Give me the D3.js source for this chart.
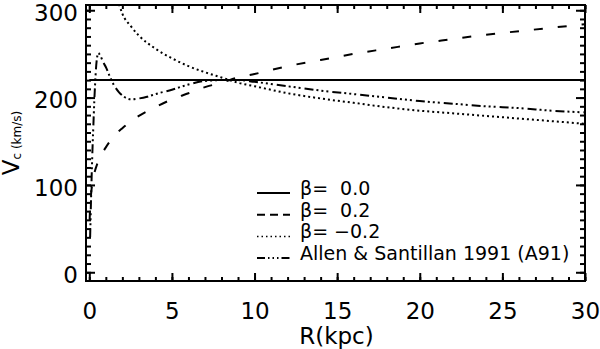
<!DOCTYPE html>
<html>
<head>
<meta charset="utf-8">
<script src="https://cdn.jsdelivr.net/npm/d3@7"></script>
<style>
	body { margin: 0; background: #fff; }
	svg { display: block; }
	text { font-family: "DejaVu Sans", sans-serif; fill: #000; }
</style>
</head>
<body>
<svg id="chart" width="600" height="349"></svg>
<script>
// tick values
var xTicks = [0, 5, 10, 15, 20, 25, 30];
var yTicks = [0, 100, 200, 300];

// beta = 0.0 (flat)
var rFlat = [0, 30];
var vFlat = [220, 220];

// beta = 0.2
var rPos = [0.02, 0.05, 0.1, 0.2, 0.3, 0.5, 0.75, 1, 1.5, 2, 3, 4, 5, 6, 7, 8, 9, 10, 12, 14, 16, 18, 20, 22, 24, 26, 28, 30];
var vPos = [60, 75, 88, 104, 113, 125, 135, 143, 156, 165, 179, 189, 198, 205, 212, 217, 223, 227, 236, 243, 250, 256, 262, 267, 272, 276, 280, 284];

// beta = -0.2
var rNeg = [1.8, 2, 2.5, 3, 4, 5, 6, 7, 8, 9, 10, 12, 14, 16, 18, 20, 22, 24, 26, 28, 30];
var vNeg = [307, 296, 282, 271, 256, 245, 236, 229, 223, 217, 213, 205, 199, 194, 189, 185, 182, 179, 176, 173, 170];

// Allen & Santillan 1991
var rA91 = [0.05, 0.1, 0.15, 0.2, 0.25, 0.3, 0.35, 0.4, 0.45, 0.5, 0.55, 0.6, 0.7, 0.8, 1.0, 1.2, 1.5, 1.8, 2.1, 2.5, 3, 3.5, 4, 5, 6, 7, 8, 9, 10, 12, 14, 16, 18, 20, 22, 24, 26, 28, 30];
var vA91 = [40, 80, 115, 145, 170, 195, 215, 232, 243, 249, 251, 250, 247, 242, 235, 226, 214, 206, 201, 198, 199, 201, 204, 209, 215, 219, 220, 220, 218, 213, 208, 204, 200, 196, 193, 190, 188, 185, 183];

var legendLabels = ["\u03b2=  0.0", "\u03b2=  0.2", "\u03b2= \u22120.2", "Allen & Santillan 1991 (A91)"];

var svg = d3.select("#chart");
var pl = 86, pr = 585, pt = 5, pb = 281;

var x = d3.scaleLinear().domain([-0.2, 30]).range([pl, pr]);
var y = d3.scaleLinear().domain([-10, 306]).range([pb, pt]);

svg.append("defs").append("clipPath").attr("id", "plotclip")
	.append("rect")
	.attr("x", pl).attr("y", pt)
	.attr("width", pr - pl).attr("height", pb - pt);

// axes: ticks point inward on all four sides
function noDomain(g) { g.select(".domain").remove(); g.selectAll(".tick line").attr("stroke-width", 2); }

svg.append("g").attr("transform", "translate(0," + pb + ")")
	.call(d3.axisBottom(x).tickValues(d3.range(0, 31, 1)).tickSize(-4).tickFormat(""))
	.call(noDomain);
var xAxis = svg.append("g").attr("transform", "translate(0," + pb + ")")
	.call(d3.axisBottom(x).tickValues(xTicks).tickSize(-8).tickPadding(22).tickFormat(d3.format("d")))
	.call(noDomain);
xAxis.selectAll("text").attr("font-size", 23).attr("font-family", "DejaVu Sans");

svg.append("g").attr("transform", "translate(0," + pt + ")")
	.call(d3.axisTop(x).tickValues(d3.range(0, 31, 1)).tickSize(-4).tickFormat(""))
	.call(noDomain);
svg.append("g").attr("transform", "translate(0," + pt + ")")
	.call(d3.axisTop(x).tickValues(xTicks).tickSize(-8).tickFormat(""))
	.call(noDomain);

svg.append("g").attr("transform", "translate(" + pl + ",0)")
	.call(d3.axisLeft(y).tickValues(d3.range(0, 301, 10)).tickSize(-5).tickFormat(""))
	.call(noDomain);
var yAxis = svg.append("g").attr("transform", "translate(" + pl + ",0)")
	.call(d3.axisLeft(y).tickValues(yTicks).tickSize(-9).tickPadding(8).tickFormat(d3.format("d")))
	.call(noDomain);
yAxis.selectAll("text").attr("font-size", 23).attr("font-family", "DejaVu Sans").attr("dy", "0.45em");

svg.append("g").attr("transform", "translate(" + pr + ",0)")
	.call(d3.axisRight(y).tickValues(d3.range(0, 301, 10)).tickSize(-5).tickFormat(""))
	.call(noDomain);
svg.append("g").attr("transform", "translate(" + pr + ",0)")
	.call(d3.axisRight(y).tickValues(yTicks).tickSize(-9).tickFormat(""))
	.call(noDomain);

// frame
svg.append("rect")
	.attr("x", pl).attr("y", pt)
	.attr("width", pr - pl).attr("height", pb - pt)
	.attr("fill", "none").attr("stroke", "#000").attr("stroke-width", 2);

// curves
var styles = [
	{r: rFlat, v: vFlat, dash: null},
	{r: rPos, v: vPos, dash: "9,15"},
	{r: rNeg, v: vNeg, dash: "2,3"},
	{r: rA91, v: vA91, dash: "9,3,2,3,2,3,2,4"}
];

var line = d3.line()
	.x(function(d) { return x(d[0]); })
	.y(function(d) { return y(d[1]); })
	.curve(d3.curveMonotoneX);

var curves = svg.append("g").attr("clip-path", "url(#plotclip)");
styles.forEach(function(s) {
	curves.append("path")
		.datum(d3.zip(s.r, s.v))
		.attr("d", line)
		.attr("fill", "none")
		.attr("stroke", "#000")
		.attr("stroke-width", 2)
		.attr("stroke-dasharray", s.dash);
});

// legend
var legendDash = [null, "8,5", "1.5,3", "8,3,1.5,3,1.5,3,1.5,3"];
var legend = svg.append("g");
legendLabels.forEach(function(lbl, i) {
	var by = 195 + i * 21.7;
	legend.append("line")
		.attr("x1", 257).attr("x2", 290)
		.attr("y1", by - 2).attr("y2", by - 2)
		.attr("stroke", "#000")
		.attr("stroke-width", i == 2 ? 1.5 : 2)
		.attr("stroke-dasharray", legendDash[i]);
	legend.append("text")
		.attr("x", 300).attr("y", by)
		.attr("font-size", 19)
		.style("white-space", "pre")
		.text(lbl);
});

// axis titles
svg.append("text")
	.attr("x", (pl + pr) / 2 + 1).attr("y", 344)
	.attr("text-anchor", "middle")
	.attr("font-size", 23)
	.text("R(kpc)");

var yTitle = svg.append("text")
	.attr("transform", "translate(19,143) rotate(-90)")
	.attr("text-anchor", "middle")
	.attr("font-size", 23);
yTitle.append("tspan").text("V");
yTitle.append("tspan").attr("font-size", 12).attr("dy", 2).style("white-space", "pre").text("c (km/s)");
</script>
</body>
</html>
